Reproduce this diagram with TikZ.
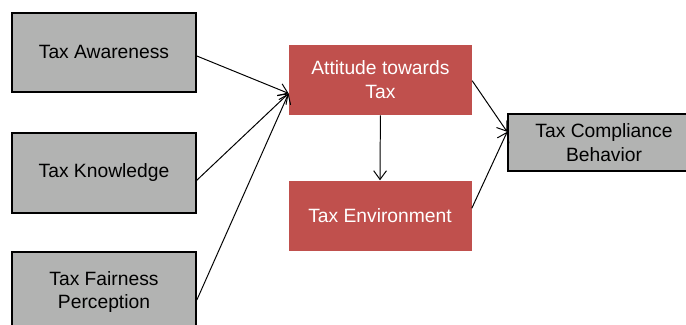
\documentclass[tikz,border=0pt]{standalone}
\usepackage{fontspec}
\setmainfont{Liberation Sans}
\usetikzlibrary{arrows.meta,calc}

\definecolor{boxgray}{RGB}{178,179,178}
\definecolor{boxred}{RGB}{192,80,77}

\tikzset{
    factor/.style={draw=black, line width=1.2pt, fill=boxgray, text=black,
        minimum width=4.6cm, align=center, inner sep=0pt},
    mediator/.style={fill=boxred, text=white, minimum width=4.575cm,
        minimum height=1.75cm, align=center, inner sep=0pt},
    link/.style={black, line width=0.7pt, -{Straight Barb[length=2.2mm,width=3.2mm]}}
}

\begin{document}
\begin{tikzpicture}[font=\fontsize{13.7}{17}\selectfont]

    \useasboundingbox (0,0) rectangle (17.15,8.1);

    % independent variables
    \node[factor, minimum height=1.975cm] (awareness) at (2.6,6.79) {Tax Awareness};
    \node[factor, minimum height=2.0cm]   (knowledge) at (2.6,3.775) {Tax Knowledge};
    \node[factor, minimum height=2.0cm]   (fairness)  at (2.6,0.8) {Tax Fairness\\Perception};

    % mediators
    \node[mediator] (attitude)    at (9.51,6.1)  {Attitude towards\\Tax};
    \node[mediator] (environment) at (9.5,2.71) {Tax Environment};

    % dependent variable
    \node[factor, minimum width=4.8cm, minimum height=1.425cm] (compliance) at (15.1,4.54) {Tax Compliance\\Behavior};

    \coordinate (attin) at ($(attitude.south west)!0.31!(attitude.north west)$);
    \coordinate (cmpin) at ($(compliance.south west)!0.68!(compliance.north west)$);

    \draw[link] ($(awareness.east)+(0,-0.09)$) -- (attin);
    \draw[link] ($(knowledge.east)+(0,-0.18)$) -- (attin);
    \draw[link] ($(fairness.east)+(0,-0.2)$) -- (attin);

    \draw[link] (attitude.south) -- (environment.north);

    \draw[link] ($(attitude.north east)+(0,-0.9)$) -- (cmpin);
    \draw[link] ($(environment.north east)+(0,-0.7)$) -- (cmpin);

\end{tikzpicture}
\end{document}
